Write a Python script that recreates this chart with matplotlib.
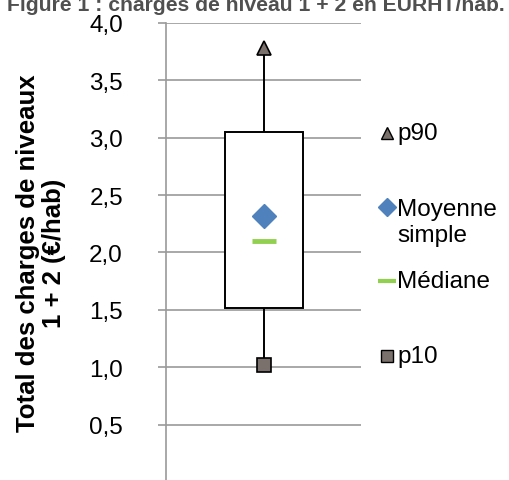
import matplotlib
matplotlib.use("Agg")
import matplotlib.pyplot as plt
from matplotlib.ticker import FuncFormatter

plt.rcParams['font.family'] = ['Liberation Sans', 'DejaVu Sans']

# valeurs (€/hab)
p10 = 1.02
q1 = 1.52
mediane = 2.10
moyenne = 2.32
q3 = 3.05
p90 = 3.78

yticks = [0.5, 1.0, 1.5, 2.0, 2.5, 3.0, 3.5, 4.0]
legend_labels = ["p90", "Moyenne\nsimple", "Médiane", "p10"]

W, H = 509, 481
fig = plt.figure(figsize=(W / 100, H / 100), dpi=100)
ax = fig.add_axes([166 / W, 1 - 483 / H, 195 / W, 459 / H])

grid_col = "#9a9a9a"
mark_col = "#7a706c"

# boite
ax.bar([1], [q3 - q1], bottom=[q1], width=0.8, color="white",
       edgecolor="black", linewidth=1.4, zorder=3)
# moustaches
ax.plot([1, 1], [q3, p90], color="black", lw=1.4, zorder=2)
ax.plot([1, 1], [p10, q1], color="black", lw=1.4, zorder=2)
ax.plot([1], [p90], marker="^", ms=10, mfc=mark_col, mec="black", mew=1.2, zorder=4)
ax.plot([1], [p10], marker="s", ms=10, mfc=mark_col, mec="black", mew=1.2, zorder=4)
ax.plot([1], [moyenne], marker="D", ms=12, mfc="#4f81bd", mec="#4f81bd", zorder=4)
ax.plot([1], [mediane], marker="_", ms=17, mec="#92d050", mew=3.5, zorder=4)

ax.set_xlim(0, 2)
ax.set_ylim(0, 4)
ax.set_xticks([])
ax.set_yticks(yticks)
ax.yaxis.set_major_formatter(FuncFormatter(lambda v, p: f"{v:.1f}".replace(".", ",")))
ax.tick_params(axis="y", direction="out", length=6, width=1.2, color=grid_col,
               pad=25, labelsize=17.5)
ax.grid(axis="y", color=grid_col, lw=1.2)
ax.set_axisbelow(True)
for s in ["top", "right", "bottom"]:
    ax.spines[s].set_visible(False)
ax.spines["left"].set_color(grid_col)
ax.spines["left"].set_linewidth(1.2)

fig.text(41 / W, 1 - 253 / H, "Total des charges de niveaux\n1 + 2 (€/hab)",
         rotation=90, ha="center", va="center", fontsize=18.5, fontweight="bold",
         linespacing=1.15)

fig.text(256 / W, 1 - 11 / H, "Figure 1 : charges de niveau 1 + 2 en EURHT/hab.",
         ha="center", va="baseline", fontsize=15.2, fontweight="bold", color="#505050")

# legende
leg_y = [134, 223, 282, 357]
leg_mk = [dict(marker="^", ms=9, mfc=mark_col, mec="black", mew=1.0),
          dict(marker="D", ms=9, mfc="#4f81bd", mec="#4f81bd"),
          dict(marker="_", ms=13, mec="#92d050", mew=3),
          dict(marker="s", ms=9, mfc=mark_col, mec="black", mew=1.0)]
lax = fig.add_axes([0, 0, 1, 1], facecolor="none")
lax.set_xlim(0, W)
lax.set_ylim(H, 0)
lax.axis("off")
for lab, y, mk in zip(legend_labels, leg_y, leg_mk):
    my = y - 15 if "\n" in lab else y
    lax.plot([387], [my], **mk)
    lax.text(397, y, lab, ha="left", va="center", fontsize=17.5, linespacing=1.25)

fig.savefig("out.png", dpi=100)
